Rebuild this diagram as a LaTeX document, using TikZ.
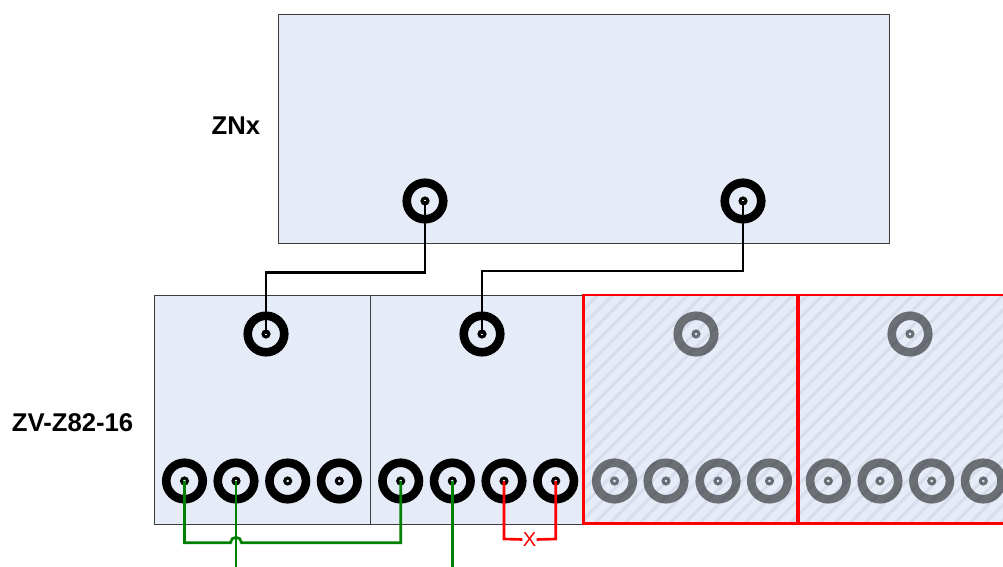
\documentclass[tikz,border=0pt]{standalone}
\usepackage{fontspec}
\setmainfont{Liberation Sans}
\definecolor{BoxClr}{HTML}{E6ECF7}
\definecolor{EdgeClr}{HTML}{3C3C3C}
\definecolor{GreyClr}{HTML}{6C6F74}
\definecolor{HatchClr}{HTML}{1A2050}
\definecolor{WireGreen}{HTML}{008000}
\definecolor{WireRed}{HTML}{FF0000}
\tikzset{
  ModuleBox/.style={draw=EdgeClr,fill=BoxClr,line width=.45pt,anchor=north west,inner sep=0pt,outer sep=0pt},
  PortRing/.style={circle,draw=#1,line width=4.9pt,minimum size=.73cm,inner sep=0pt},
  PortPin/.style={circle,draw=#1,line width=1.7pt,minimum size=.12cm,inner sep=0pt},
  BigLabel/.style={font=\bfseries\fontsize{14.6}{16}\selectfont,inner sep=0pt},
  WireLine/.style={draw=#1,line width=1.5pt,line join=miter},
  FailLine/.style={draw=WireRed,line width=1.7pt},
  HatchLine/.style={draw=HatchClr,line width=1.7pt,draw opacity=.07},
}
% one port: ring and its pin share a centre
\newcommand{\PortAt}[3]{%
  \node[PortRing=#3] (#1) at (#2) {};
  \node[PortPin=#3] (#1p) at (#2) {};
}

\begin{document}
\begin{tikzpicture}[x=.02cm,y=-.02cm]
\clip (0,0) rectangle (1003,567);

% boxes
\node[ModuleBox,minimum width=12.22cm,minimum height=4.58cm] (ZNx) at (278.3,14) {};
\node[ModuleBox,minimum width=4.32cm,minimum height=4.58cm] (ModA) at (154,295) {};
\node[ModuleBox,minimum width=4.26cm,minimum height=4.58cm] (ModB) at (370,295) {};
\node[ModuleBox,draw=none,minimum width=4.30cm,minimum height=4.58cm] (ModC) at (583,295) {};
\node[ModuleBox,draw=none,minimum width=4.40cm,minimum height=4.58cm] (ModD) at (798,295) {};

% labels
\node[BigLabel,anchor=east] (ZNxName) at (260.5,126) {ZNx};
\node[BigLabel,anchor=east] (ZVName) at (133.5,423) {ZV-Z82-16};

% ports
\PortAt{zA}{425,201}{black}
\PortAt{zB}{743,201}{black}

\PortAt{aTop}{266,334}{black}
\PortAt{aOne}{184.5,481}{black}
\PortAt{aTwo}{236,481}{black}
\PortAt{aThree}{287.7,481}{black}
\PortAt{aFour}{339.3,481}{black}

\PortAt{bTop}{482,334}{black}
\PortAt{bOne}{400.7,481}{black}
\PortAt{bTwo}{452.3,481}{black}
\PortAt{bThree}{504,481}{black}
\PortAt{bFour}{555.7,481}{black}

\PortAt{cTop}{696,334}{GreyClr}
\PortAt{cOne}{614.5,481}{GreyClr}
\PortAt{cTwo}{666,481}{GreyClr}
\PortAt{cThree}{718,481}{GreyClr}
\PortAt{cFour}{769.5,481}{GreyClr}

\PortAt{dTop}{910,334}{GreyClr}
\PortAt{dOne}{828.3,481}{GreyClr}
\PortAt{dTwo}{880,481}{GreyClr}
\PortAt{dThree}{931.7,481}{GreyClr}
\PortAt{dFour}{983.3,481}{GreyClr}

% unused modules
\begin{scope}
\clip (ModC.north west) rectangle (ModD.south east);
\foreach \hx in {354,369,...,1004}
  \draw[HatchLine] (\hx,524) -- ++(229,-229);
\end{scope}
\draw[FailLine] (ModC.north west) rectangle (ModC.south east);
\draw[FailLine] (ModD.north west) rectangle (ModD.south east);

% wires
\draw[WireLine=black] (zA.center) -- (425,272.5) -- (266,272.5) -- (aTop.center);
\draw[WireLine=black] (zB.center) -- (743,271) -- (482,271) -- (bTop.center);

\coordinate (aTwoEnd) at (236,567);
\coordinate (bTwoEnd) at (452.3,567);
\draw[WireLine=WireGreen] (aOne.center) -- (184.5,542.7) -- (230.5,542.7) arc (180:360:5.5) -- (400.7,542.7) -- (bOne.center);
\draw[WireLine=WireGreen] (aTwo.center) -- (aTwoEnd);
\draw[WireLine=WireGreen] (bTwo.center) -- (bTwoEnd);

\node[text=WireRed,font=\fontsize{11.5}{12}\selectfont,inner sep=0pt] (xMark) at (529.5,539.5) {X};
\draw[WireLine=WireRed] (bThree.center) -- (504,539) -- (xMark.west);
\draw[WireLine=WireRed] (bFour.center) -- (555.7,539) -- (xMark.east);
\end{tikzpicture}
\end{document}
